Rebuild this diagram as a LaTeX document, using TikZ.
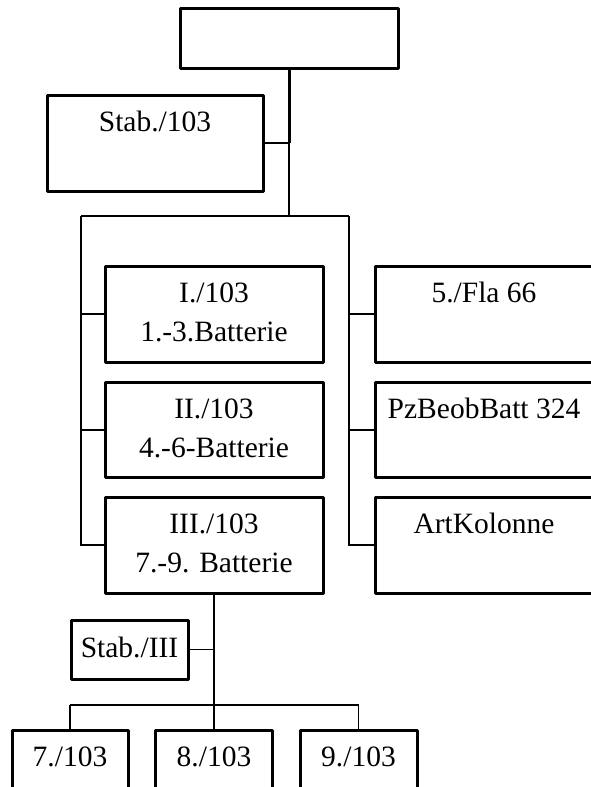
\documentclass[tikz,border=0pt]{standalone}
\usepackage{fontspec}
\setmainfont{Liberation Serif}
\begin{document}
\begin{tikzpicture}[x=1pt,y=-1pt,
  box/.style={draw, line width=3pt, line join=round, inner sep=0pt, align=center,
    font=\fontsize{29.5}{39}\selectfont},
  conn/.style={line width=1.2pt},
  midconn/.style={line width=2pt},
  thickconn/.style={line width=3pt}]
\useasboundingbox (0,0) rectangle (590,787);
% boxes
\node[box, minimum width=218pt, minimum height=60pt] (top) at (289,38) {};
\node[box, minimum width=216pt, minimum height=96pt] (stab) at (155,143) {Stab./103\strut\\\strut};
\node[box, minimum width=218pt, minimum height=96pt] (b1) at (214,314) {I./103\strut\\1.-3.Batterie\strut};
\node[box, minimum width=218pt, minimum height=95pt] (b2) at (214,430) {II./103\strut\\4.-6-Batterie\strut};
\node[box, minimum width=218pt, minimum height=96pt] (b3) at (214,545) {III./103\strut\\7.-9. Batterie\strut};
\node[box, minimum width=218pt, minimum height=96pt] (r1) at (484,314) {5./Fla 66\strut\\\strut};
\node[box, minimum width=218pt, minimum height=95pt] (r2) at (484,430) {PzBeobBatt 324\strut\\\strut};
\node[box, minimum width=218pt, minimum height=96pt] (r3) at (484,545) {ArtKolonne\strut\\\strut};
\node[box, minimum width=117pt, minimum height=59pt] (s3) at (129.5,649.5) {Stab./III\strut};
\node[box, minimum width=116pt, minimum height=96pt] (s7) at (70,778) {7./103\strut\\\strut};
\node[box, minimum width=117pt, minimum height=96pt] (s8) at (214,778) {8./103\strut\\\strut};
\node[box, minimum width=117pt, minimum height=96pt] (s9) at (358.5,778) {9./103\strut\\\strut};
% junctions
\coordinate (j1) at (top.south |- stab.east);
\coordinate (j2) at (289,216);
\coordinate (jl) at (81,216);
\coordinate (jr) at (349,216);
\coordinate (k1) at (b3.south |- s3.east);
\coordinate (k2) at (b3.south |- 0,705);
\coordinate (kl) at (s7.north |- 0,705);
\coordinate (kr) at (s9.north |- 0,705);
% connectors
\draw[thickconn] (top.south) -- (j1);
\draw[conn] (stab.east) -- (j1) -- (j2);
\draw[conn] (jl) -- (jr);
\draw[conn] (jl) |- (b3.west);
\draw[conn] (jl |- b1.west) -- (b1.west);
\draw[conn] (jl |- b2.west) -- (b2.west);
\draw[conn] (jr) |- (r3.west);
\draw[conn] (jr |- r1.west) -- (r1.west);
\draw[conn] (jr |- r2.west) -- (r2.west);
\draw[midconn] (b3.south) -- (k2) -- (s8.north);
\draw[conn] (s3.east) -- (k1);
\draw[conn] (kl) -- (kr);
\draw[conn] (kl) -- (s7.north);
\draw[conn] (kr) -- (s9.north);
\end{tikzpicture}
\end{document}
